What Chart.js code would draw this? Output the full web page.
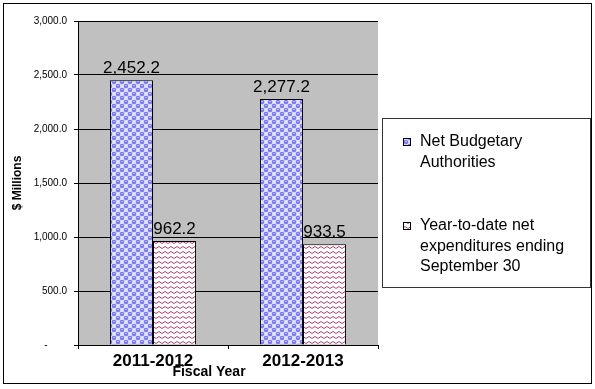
<!DOCTYPE html>
<html>
<head>
<meta charset="utf-8">
<script src="https://cdn.jsdelivr.net/npm/chart.js@4/dist/chart.umd.min.js"></script>
<style>
  html, body { margin: 0; padding: 0; background: #fff; }
  #wrap { width: 595px; height: 389px; position: relative; }
</style>
</head>
<body>
<div id="wrap"><canvas id="myChart" width="595" height="389"></canvas></div>
<script>
var years = ['2011-2012', '2012-2013'];
var authorities = [2452.2, 2277.2];
var expenditures = [962.2, 933.5];
var seriesNames = [['Net Budgetary', 'Authorities'], ['Year-to-date net', 'expenditures ending', 'September 30']];
var yTicks = [0, 500, 1000, 1500, 2000, 2500, 3000];

function fmt(v) {
  return v.toLocaleString('en-US', { minimumFractionDigits: 1, maximumFractionDigits: 1 });
}

// dotted blue fill
function dotPattern() {
  var c = document.createElement('canvas');
  c.width = 8; c.height = 8;
  var g = c.getContext('2d');
  g.fillStyle = '#e6e6ff';
  g.fillRect(0, 0, 8, 8);
  g.fillStyle = '#7c7cf2';
  [[2, 2], [6, 6], [6, -2], [-2, 6], [10, 2], [2, 10]].forEach(function (p) {
    g.beginPath(); g.arc(p[0], p[1], 2.3, 0, Math.PI * 2); g.fill();
  });
  g.fillStyle = '#b4b4ff';
  g.fillRect(1, 1, 2, 1); g.fillRect(5, 5, 2, 1);
  return g.createPattern(c, 'repeat');
}

// red zigzag fill
function zigPattern() {
  var c = document.createElement('canvas');
  c.width = 6; c.height = 5;
  var g = c.getContext('2d');
  g.fillStyle = '#ffffff';
  g.fillRect(0, 0, 6, 5);
  g.strokeStyle = '#b04478';
  g.lineWidth = 1;
  g.beginPath();
  g.moveTo(0, 3.5); g.lineTo(3, 1.5); g.lineTo(6, 3.5);
  g.stroke();
  return g.createPattern(c, 'repeat');
}

var patterns = [dotPattern(), zigPattern()];

var decor = {
  id: 'decor',
  beforeDraw: function (chart) {
    var ctx = chart.ctx, a = chart.chartArea;
    ctx.save();
    ctx.fillStyle = '#fff';
    ctx.fillRect(0, 0, chart.width, chart.height);
    ctx.fillStyle = '#c0c0c0';
    ctx.fillRect(a.left, a.top, a.right - a.left, a.bottom - a.top);
    ctx.restore();
  },
  afterDraw: function (chart) {
    var ctx = chart.ctx;
    ctx.save();
    // value labels
    ctx.fillStyle = '#000';
    ctx.font = '17px Arial, "Liberation Sans"';
    ctx.textAlign = 'center';
    ctx.textBaseline = 'bottom';
    chart.data.datasets.forEach(function (ds, i) {
      chart.getDatasetMeta(i).data.forEach(function (bar, j) {
        ctx.fillText(fmt(ds.data[j]), bar.x, bar.y - 3);
      });
    });
    // axis title
    ctx.font = 'bold 14px Arial, "Liberation Sans"';
    ctx.textBaseline = 'middle';
    ctx.fillText('Fiscal Year', 209, 372);
    // outer frame
    ctx.strokeStyle = '#000';
    ctx.lineWidth = 1;
    ctx.strokeRect(3.5, 3.5, 588, 380);
    // legend
    var lx = 382, ly = 118;
    ctx.fillStyle = '#fff';
    ctx.fillRect(lx, ly, 208, 169);
    ctx.strokeStyle = '#333';
    ctx.strokeRect(lx + 0.5, ly + 0.5, 208, 169);
    ctx.font = '16px Arial, "Liberation Sans"';
    ctx.textAlign = 'left';
    var starts = [142, 226];
    chart.data.datasets.forEach(function (ds, i) {
      var y = starts[i];
      ctx.fillStyle = ds.backgroundColor;
      ctx.fillRect(403, y - 4, 8, 8);
      ctx.strokeStyle = '#000';
      ctx.strokeRect(403.5, y - 3.5, 7, 7);
      ctx.fillStyle = '#000';
      seriesNames[i].forEach(function (line, k) {
        ctx.fillText(line, 420, y + k * 20.5);
      });
    });
    ctx.restore();
  }
};

var ctx = document.getElementById('myChart').getContext('2d');
var chart = new Chart(ctx, {
  type: 'bar',
  data: {
    labels: years,
    datasets: [{
      label: seriesNames[0].join(' '),
      data: authorities,
      backgroundColor: patterns[0],
      borderColor: '#000',
      borderWidth: 1,
      borderSkipped: 'bottom'
    }, {
      label: seriesNames[1].join(' '),
      data: expenditures,
      backgroundColor: patterns[1],
      borderColor: '#000',
      borderWidth: 1,
      borderSkipped: 'bottom'
    }]
  },
  options: {
    responsive: false,
    animation: false,
    layout: { padding: { left: 0, top: 21, right: 217, bottom: 0 } },
    plugins: { legend: { display: false }, tooltip: { enabled: false } },
    datasets: { bar: { categoryPercentage: 0.574, barPercentage: 1 } },
    scales: {
      x: {
        afterFit: function (s) { s.height = 44; },
        grid: { drawOnChartArea: false, drawTicks: true, tickLength: 4, color: '#000', offset: true },
        border: { color: '#000', width: 1 },
        ticks: {
          color: '#000',
          padding: 2,
          font: { family: 'Arial, "Liberation Sans"', size: 17, weight: 'bold' }
        }
      },
      y: {
        min: 0,
        max: 3000,
        afterFit: function (s) { s.width = 78; },
        afterBuildTicks: function (s) { s.ticks = yTicks.map(function (v) { return { value: v }; }); },
        grid: { color: '#000', tickLength: 4 },
        border: { color: '#000', width: 1 },
        title: {
          display: true,
          text: '$ Millions',
          color: '#000',
          padding: { top: 10, bottom: 0 },
          font: { family: 'Arial, "Liberation Sans"', size: 12, weight: 'bold' }
        },
        ticks: {
          color: '#000',
          padding: 7,
          font: { family: 'Arial, "Liberation Sans"', size: 10 },
          callback: function (v) { return v === 0 ? '-       ' : fmt(v); }
        }
      }
    }
  },
  plugins: [decor]
});
</script>
</body>
</html>
